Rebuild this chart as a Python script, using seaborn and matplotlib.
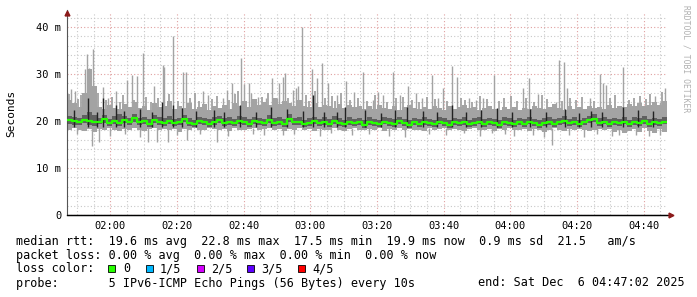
import matplotlib
matplotlib.use("Agg")
import matplotlib.pyplot as plt
import matplotlib.dates as mdates
from matplotlib.patches import Rectangle
import numpy as np
import pandas as pd
import seaborn as sns

# ---------------- data (ms), one sample every 90 s from 01:47:02 ----------------
START = "2025-12-06 01:47:02"
END = "2025-12-06 04:47:02"
STEP_S = 90

band_top = [24.5, 23.8, 23.0, 26.0, 31.0, 27.5, 23.0, 22.6, 23.4, 22.8,
            22.5, 23.6, 22.9, 24.0, 22.7, 23.2, 22.4, 23.8, 22.9, 23.1,
            24.2, 22.6, 23.3, 22.8, 23.9, 22.5, 23.0, 23.6, 22.4, 23.1,
            22.8, 23.4, 22.6, 23.9, 23.2, 24.3, 23.0, 24.6, 23.5, 24.0,
            23.4, 24.8, 23.6, 24.2, 23.9, 23.1, 24.4, 23.3, 23.0, 23.8,
            22.9, 23.5, 23.2, 22.8, 23.6, 22.7, 23.4, 22.9, 23.3, 22.6,
            23.1, 22.5, 23.4, 22.8, 22.6, 23.2, 22.4, 22.9, 23.5, 22.7,
            22.5, 23.0, 22.6, 23.3, 22.8, 22.4, 23.1, 22.6, 22.9, 23.4,
            22.7, 23.0, 22.4, 22.8, 23.2, 22.6, 22.3, 22.9, 22.5, 23.0,
            22.4, 22.8, 22.6, 23.3, 22.7, 22.5, 23.0, 23.6, 22.8, 22.4,
            23.1, 22.6, 22.9, 22.5, 23.2, 22.7, 23.0, 22.6, 23.5, 22.8,
            23.3, 22.9, 23.6, 23.1, 23.8, 23.2, 23.5, 24.0, 23.4, 24.2]

band_bottom = [18.2, 18.5, 18.0, 17.9, 18.3, 17.6, 18.4, 18.1, 18.6, 18.2,
               17.9, 18.4, 18.0, 18.5, 18.2, 17.8, 18.3, 18.6, 18.1, 18.4,
               18.0, 18.3, 17.7, 18.4, 18.1, 18.5, 18.2, 18.0, 18.6, 18.3,
               18.1, 18.4, 17.9, 18.5, 18.2, 18.0, 18.4, 18.6, 18.1, 18.3,
               18.5, 18.0, 18.3, 17.8, 18.4, 18.2, 18.6, 18.1, 18.3, 17.9,
               18.4, 18.2, 18.0, 18.5, 18.1, 17.8, 18.3, 18.6, 18.2, 18.0,
               18.4, 18.1, 18.5, 17.9, 18.3, 18.0, 18.6, 18.2, 18.4, 18.0,
               18.2, 17.8, 18.5, 18.1, 18.3, 18.6, 18.0, 18.4, 18.2, 17.9,
               18.3, 18.5, 18.0, 18.2, 18.4, 17.8, 18.3, 18.1, 18.5, 18.0,
               18.2, 18.4, 17.9, 18.3, 18.0, 17.7, 18.2, 18.5, 18.1, 17.9,
               18.3, 18.0, 18.4, 18.2, 17.8, 18.1, 18.4, 18.0, 18.3, 17.6,
               18.1, 17.5, 17.9, 18.3, 17.6, 18.5, 17.8, 17.4, 18.4, 17.7]

dark_low = [19.4, 19.2, 19.1, 19.5, 19.2, 19.0, 19.3, 19.6, 19.0, 19.4,
            18.9, 19.5, 19.1, 19.8, 19.1, 19.3, 18.8, 19.6, 19.2, 19.0,
            19.4, 18.9, 19.1, 19.7, 19.0, 18.7, 19.3, 19.1, 18.8, 19.2,
            19.5, 19.0, 19.2, 18.9, 19.4, 19.1, 18.8, 19.3, 19.2, 18.9,
            19.6, 19.0, 19.2, 18.8, 19.7, 19.1, 19.2, 18.7, 19.0, 19.3,
            18.9, 19.2, 18.8, 19.4, 19.0, 18.7, 19.2, 18.9, 19.1, 18.6,
            19.2, 18.9, 18.7, 19.3, 19.0, 18.8, 19.3, 18.9, 18.6, 19.1,
            18.8, 19.2, 18.9, 18.7, 19.3, 19.0, 18.6, 19.1, 18.9, 19.2,
            18.7, 19.0, 19.3, 18.8, 19.1, 18.9, 18.6, 19.2, 19.0, 18.7,
            19.1, 18.8, 19.3, 18.9, 18.6, 19.0, 19.2, 18.8, 19.1, 19.4,
            18.9, 19.2, 18.7, 19.1, 19.5, 19.7, 19.0, 19.3, 18.8, 19.1,
            18.9, 19.3, 18.7, 19.2, 19.0, 19.4, 18.8, 19.1, 18.9, 19.3]

dark_high = [21.0, 20.8, 20.6, 21.2, 22.0, 21.3, 20.7, 21.2, 20.5, 21.0,
             21.4, 21.0, 20.7, 21.4, 20.6, 20.9, 20.4, 21.2, 20.8, 20.6,
             21.0, 20.5, 20.7, 21.3, 20.6, 20.3, 20.9, 20.7, 20.4, 20.8,
             21.1, 20.6, 20.8, 20.5, 21.0, 20.8, 20.4, 20.9, 20.7, 20.5,
             21.2, 20.6, 20.9, 20.4, 21.4, 20.7, 20.8, 20.3, 20.6, 20.9,
             20.5, 20.8, 20.4, 21.0, 20.6, 20.3, 20.9, 20.5, 20.7, 20.2,
             20.8, 20.5, 20.3, 20.9, 20.6, 20.4, 20.9, 20.5, 20.2, 20.7,
             20.4, 20.8, 20.5, 20.3, 20.9, 20.6, 20.2, 20.7, 20.5, 20.8,
             20.3, 20.6, 20.9, 20.4, 20.7, 20.5, 20.2, 20.8, 20.6, 20.3,
             20.7, 20.4, 20.9, 20.5, 20.2, 20.6, 20.8, 20.4, 20.7, 21.0,
             20.5, 20.8, 20.3, 20.7, 21.1, 21.4, 20.6, 20.9, 20.4, 20.7,
             20.5, 20.9, 20.3, 20.8, 20.6, 21.0, 20.4, 20.7, 20.5, 20.9]

median = [20.3, 20.1, 19.8, 20.2, 20.0, 19.7, 19.9, 20.4, 19.6, 20.1,
          19.5, 20.2, 19.8, 20.6, 19.7, 20.0, 19.4, 20.3, 19.9, 19.6,
          20.1, 19.5, 19.8, 20.4, 19.6, 19.3, 20.0, 19.7, 19.4, 19.9,
          20.2, 19.6, 19.8, 19.5, 20.1, 19.7, 19.4, 20.0, 19.8, 19.5,
          20.3, 19.6, 19.9, 19.4, 20.5, 19.7, 19.8, 19.3, 19.6, 20.0,
          19.5, 19.8, 19.4, 20.1, 19.6, 19.3, 19.9, 19.5, 19.7, 19.2,
          19.8, 19.5, 19.3, 19.9, 19.6, 19.4, 20.0, 19.5, 19.2, 19.7,
          19.4, 19.8, 19.5, 19.3, 19.9, 19.6, 19.2, 19.7, 19.5, 19.8,
          19.3, 19.6, 19.9, 19.4, 19.7, 19.5, 19.2, 19.8, 19.6, 19.3,
          19.7, 19.4, 19.9, 19.5, 19.2, 19.6, 19.8, 19.4, 19.7, 20.1,
          19.5, 19.8, 19.3, 19.7, 20.2, 20.4, 19.6, 19.9, 19.4, 19.7,
          19.5, 19.9, 19.3, 19.8, 19.6, 20.0, 19.4, 19.7, 19.5, 19.9]

# tall single-sample spikes: minutes after start, peak value (ms)
spike_min = [1.2, 2.4, 5.4, 6.1, 6.6, 7.7, 10.8, 12.3, 14.7, 18.0, 19.5, 21.0,
             22.7, 26.1, 28.7, 29.1, 31.9, 34.7, 35.7, 40.8, 42.3, 46.7, 47.9,
             49.4, 52.1, 53.1, 54.6, 55.1, 57.4, 59.6, 61.4, 62.9, 63.7, 64.7,
             65.4, 67.7, 68.7, 69.4, 70.4, 73.5, 75.1, 76.4, 78.4, 81.1, 83.7,
             86.1, 88.9, 91.9, 93.2, 94.9, 97.9, 99.9, 102.4, 104.7, 106.4,
             109.4, 111.4, 112.9, 115.4, 116.9, 120.7, 122.7, 124.7, 128.2,
             136.7, 138.7, 141.3, 146.7, 147.7, 149.2, 149.9, 156.9, 159.9,
             160.9, 161.7, 166.7, 176.4, 177.9, 179.4]
spike_val = [26.8, 26.4, 31.0, 34.3, 31.3, 35.3, 27.3, 25.0, 26.4, 28.7, 29.8, 29.5,
             34.5, 27.5, 31.9, 31.5, 38.2, 30.4, 30.5, 26.3, 25.5, 25.0, 26.7,
             28.0, 33.5, 27.8, 28.2, 25.9, 25.1, 24.8, 29.1, 25.0, 28.0, 29.3,
             30.2, 26.6, 27.0, 27.4, 40.0, 31.0, 29.1, 32.4, 28.0, 25.5, 28.5,
             26.2, 30.5, 24.4, 26.2, 25.5, 30.5, 25.5, 27.4, 25.9, 25.0,
             29.9, 25.0, 27.0, 31.8, 29.4, 25.0, 24.4, 24.8, 29.9,
             27.0, 29.2, 25.8, 24.1, 33.0, 32.6, 27.0, 25.0, 30.0,
             28.0, 27.7, 31.6, 25.3, 24.1, 27.1]

# smaller spikes forming the "smoke" texture
minor_min = [0.5, 3.3, 4.2, 8.5, 9.3, 11.6, 13.4, 15.8, 16.9, 20.2, 23.8, 25.2,
             27.4, 30.6, 33.2, 37.0, 38.4, 39.6, 43.5, 45.1, 48.7, 50.5, 51.4,
             56.2, 58.5, 60.3, 66.2, 71.8, 72.6, 74.3, 77.5, 79.6, 80.4, 82.3,
             84.9, 87.2, 90.1, 92.5, 96.0, 98.8, 100.8, 103.5, 105.6, 107.9,
             110.4, 114.0, 118.2, 119.5, 121.6, 123.8, 126.0, 129.5, 131.0,
             133.2, 134.9, 137.6, 140.2, 142.6, 144.0, 148.5, 151.0, 152.8,
             154.6, 158.0, 163.0, 164.5, 168.5, 170.2, 172.0, 173.6, 175.0, 178.6]
minor_val = [25.8, 24.6, 25.5, 24.2, 25.9, 24.4, 25.1, 24.0, 25.6, 24.5, 25.2, 24.1,
             24.9, 25.7, 24.3, 24.8, 25.9, 24.2, 24.7, 25.3, 24.4, 25.8, 26.3,
             24.6, 25.2, 26.0, 24.9, 25.6, 24.3, 26.4, 24.8, 25.4, 24.2,
             25.9, 24.5, 25.0, 24.3, 25.6, 24.1, 24.8, 25.2, 24.4, 24.0, 25.1,
             24.6, 24.2, 25.0, 24.4, 24.1, 25.3, 24.7, 24.2, 24.9, 25.4,
             24.3, 24.8, 24.1, 25.5, 24.6, 24.2, 24.9, 24.4, 25.1, 24.3,
             24.8, 25.6, 24.5, 24.9, 25.3, 24.6, 25.7, 26.2]

low_min = [3.0, 7.5, 9.6, 12.9, 17.5, 21.8, 24.3, 27.0, 30.2, 33.0, 35.9, 40.0,
           44.9, 48.2, 55.8, 59.0, 64.8, 68.0, 75.8, 79.2, 85.5, 90.6, 96.5,
           101.4, 108.5, 113.6, 119.0, 124.0, 127.4, 131.4, 134.0, 139.8,
           143.2, 145.5, 150.5, 155.0, 158.9, 163.5, 165.6, 170.8, 174.5, 178.0]
low_val = [17.2, 14.7, 15.6, 16.8, 17.3, 16.6, 15.6, 15.6, 15.6, 17.0, 16.0, 17.2,
           15.6, 16.9, 17.3, 17.0, 17.0, 17.2, 16.8, 17.4, 17.0, 17.3, 16.9,
           16.7, 17.2, 17.0, 17.4, 16.8, 17.4, 17.3, 16.9, 17.1,
           16.6, 15.0, 17.0, 16.7, 17.2, 16.9, 17.0, 17.1, 16.8, 17.0]

dark_spike_min = [2.0, 6.3, 9.0, 10.8, 14.7, 17.2, 22.0, 25.6, 28.5, 31.9, 34.5,
                  38.8, 44.0, 47.2, 51.9, 56.8, 61.2, 65.9, 70.8, 73.7, 77.0,
                  80.9, 83.4, 89.5, 94.2, 98.4, 102.0, 106.9, 111.0, 115.5, 119.8,
                  124.3, 129.0, 133.6, 138.9, 143.8, 149.4, 153.5, 157.2, 160.5,
                  166.8, 171.3, 175.8]
dark_spike_val = [22.4, 24.9, 22.0, 25.0, 23.5, 22.2, 22.6, 21.9, 24.0, 23.5, 22.8,
                  22.1, 22.4, 21.9, 23.5, 22.0, 23.0, 22.5, 22.2, 25.5, 22.0,
                  21.9, 23.0, 22.3, 21.8, 22.4, 23.0, 22.1, 21.9, 23.5, 22.0,
                  22.3, 22.8, 21.9, 22.5, 22.0, 22.6, 21.8, 22.2, 22.0,
                  23.0, 22.4, 22.1]

y_ticks = [0, 10, 20, 30, 40]
y_tick_labels = ["0", "10 m", "20 m", "30 m", "40 m"]
loss_labels = ["0", "1/5", "2/5", "3/5", "4/5"]
loss_colors = ["#26ff00", "#00b8ff", "#d400ff", "#5e00ff", "#ff0000"]

# ---------------- build frame ----------------
start = pd.Timestamp(START)
end = pd.Timestamp(END)
n = len(median)
times = pd.date_range(start, periods=n, freq=f"{STEP_S}s")
times_ext = times.append(pd.DatetimeIndex([end]))

def ext(a):
    return list(a) + [a[-1]]

df = pd.DataFrame({"time": times_ext, "median": ext(median)})

# ---------------- figure ----------------
sns.set_style("white")
plt.rcParams["font.family"] = ["DejaVu Sans Mono"]
W, H = 697, 297
fig = plt.figure(figsize=(W / 100, H / 100), dpi=100)
fig.patch.set_facecolor("white")

ax_l, ax_r, ax_t, ax_b = 67, 667, 13, 215
ax = fig.add_axes([ax_l / W, 1 - ax_b / H, (ax_r - ax_l) / W, (ax_b - ax_t) / H])
ax.set_facecolor("white")

light = "#a3a3a3"
dark = "#4a4a4a"

tnum = mdates.date2num(times_ext.to_pydatetime())

def tmin(m):
    return mdates.date2num((start + pd.Timedelta(minutes=m)).to_pydatetime())

ax.fill_between(tnum, ext(band_bottom), ext(band_top), step="post",
                color=light, lw=0, zorder=2)
ax.vlines([tmin(m) for m in minor_min], 21.5, minor_val, color=light, lw=1.3, zorder=2)
ax.vlines([tmin(m) for m in spike_min], 21.5, spike_val, color=light, lw=1.0, zorder=2)
ax.vlines([tmin(m) for m in low_min], low_val, 18.6, color=light, lw=1.0, zorder=2)
ax.fill_between(tnum, ext(dark_low), ext(dark_high), step="post",
                color=dark, lw=0, zorder=3, alpha=0.75)
ax.vlines([tmin(m) for m in dark_spike_min], 18.8, dark_spike_val, color="#222222",
          lw=1.0, zorder=3)

sns.lineplot(data=df, x="time", y="median", ax=ax, color="#26ff00",
             lw=1.6, drawstyle="steps-post", zorder=4, legend=False)

# axes limits & grid
ax.set_xlim(mdates.date2num(start.to_pydatetime()), mdates.date2num(end.to_pydatetime()))
ax.set_ylim(0, 43)
ax.xaxis.set_major_locator(mdates.MinuteLocator(byminute=[0, 20, 40]))
ax.xaxis.set_minor_locator(mdates.MinuteLocator(byminute=range(0, 60, 5)))
ax.xaxis.set_major_formatter(mdates.DateFormatter("%H:%M"))
ax.set_yticks(y_ticks)
ax.set_yticklabels(y_tick_labels)
ax.yaxis.set_minor_locator(matplotlib.ticker.MultipleLocator(2))

ax.grid(which="minor", color="#c8c8c8", linestyle=(0, (1, 2)), lw=0.8, zorder=1)
ax.grid(which="major", color="#e0a0a0", linestyle=(0, (1, 2)), lw=0.8, zorder=1)
ax.set_axisbelow(True)

ax.tick_params(axis="both", which="both", labelsize=7.5, colors="#000000",
               length=2, width=0.7, pad=2)
ax.tick_params(axis="x", which="both", color="#666666")
ax.tick_params(axis="y", which="both", color="#666666")
ax.set_xlabel("")
ax.set_ylabel("")

for s in ["top", "right"]:
    ax.spines[s].set_visible(False)
ax.spines["left"].set_color("#555555")
ax.spines["left"].set_linewidth(0.8)
ax.spines["bottom"].set_color("#000000")
ax.spines["bottom"].set_linewidth(0.9)
ax.spines["left"].set_bounds(0, 43.6)

# axis arrows
ax.plot([0], [1.0], marker="^", color="#8b1a1a", markersize=3.5, transform=ax.transAxes,
        clip_on=False, zorder=6)
ax.plot([1.0 + 4 / 600], [0], marker=">", color="#8b1a1a", markersize=3.5,
        transform=ax.transAxes, clip_on=False, zorder=6)
ax.plot([0, 1.0 + 4 / 600], [0, 0], color="#000000", lw=0.9, transform=ax.transAxes,
        clip_on=False, zorder=5)

# y label
fig.text(11 / W, 1 - 113 / H, "Seconds", rotation=90, ha="center", va="center",
         fontsize=8, color="#000000")
# watermark
fig.text(686 / W, 1 - 5 / H, "RRDTOOL / TOBI OETIKER", rotation=270, ha="center",
         va="top", fontsize=5.8, color="#b0b0b0")

# legend text
fs = 8.5
def ftext(x, y, s, **kw):
    fig.text(x / W, 1 - y / H, s, fontsize=fs, ha="left", va="center", color="#000000", **kw)

ftext(16, 241, "median rtt:  19.6 ms avg  22.8 ms max  17.5 ms min  19.9 ms now  0.9 ms sd  21.5   am/s")
ftext(16, 255, "packet loss: 0.00 % avg  0.00 % max  0.00 % min  0.00 % now")
ftext(16, 269, "loss color:")
sq_x = [108, 146, 197, 247, 298]
lbl_x = [123, 160, 211, 261, 312]
for sx, lx, lab, col in zip(sq_x, lbl_x, loss_labels, loss_colors):
    fig.patches.append(Rectangle((sx / W, 1 - 272 / H), 7 / W, 7 / H, transform=fig.transFigure,
                                 facecolor=col, edgecolor="#000000", lw=0.6, figure=fig))
    ftext(lx, 269, lab)
ftext(16, 283, "probe:       5 IPv6-ICMP Echo Pings (56 Bytes) every 10s")
ftext(478, 283, "end: Sat Dec  6 04:47:02 2025")

fig.savefig("out.png", dpi=100, facecolor="white")
